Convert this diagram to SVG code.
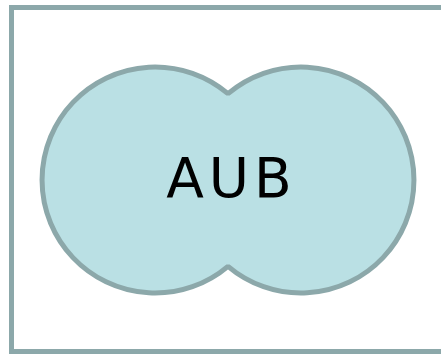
<svg xmlns="http://www.w3.org/2000/svg" width="441" height="354" viewBox="0 0 441 354">
  <style>
    .frame { fill: #ffffff; stroke: #8ca8aa; stroke-width: 5; }
    .union { fill: #bae0e4; stroke: #8ca8aa; stroke-width: 5; stroke-linejoin: bevel; }
    .label { font-family: "DejaVu Sans", sans-serif; font-size: 55px; letter-spacing: 5px; fill: #000000; text-anchor: middle; }
  </style>
  <rect width="441" height="354" fill="#ffffff"/>
  <!-- universe rectangle, right edge runs past the canvas -->
  <g id="universe">
    <rect class="frame" x="11.5" y="7.5" width="440" height="344"/>
  </g>
  <!-- union of two overlapping circles, centres (155,180) and (301,180), r=113 -->
  <g id="union">
    <path class="union" d="M228,93.7 A113,113 0 1,1 228,266.3 A113,113 0 1,1 228,93.7 Z"/>
    <text class="label" x="231.5" y="197">AUB</text>
  </g>
  <g id="connectors"/>
</svg>
